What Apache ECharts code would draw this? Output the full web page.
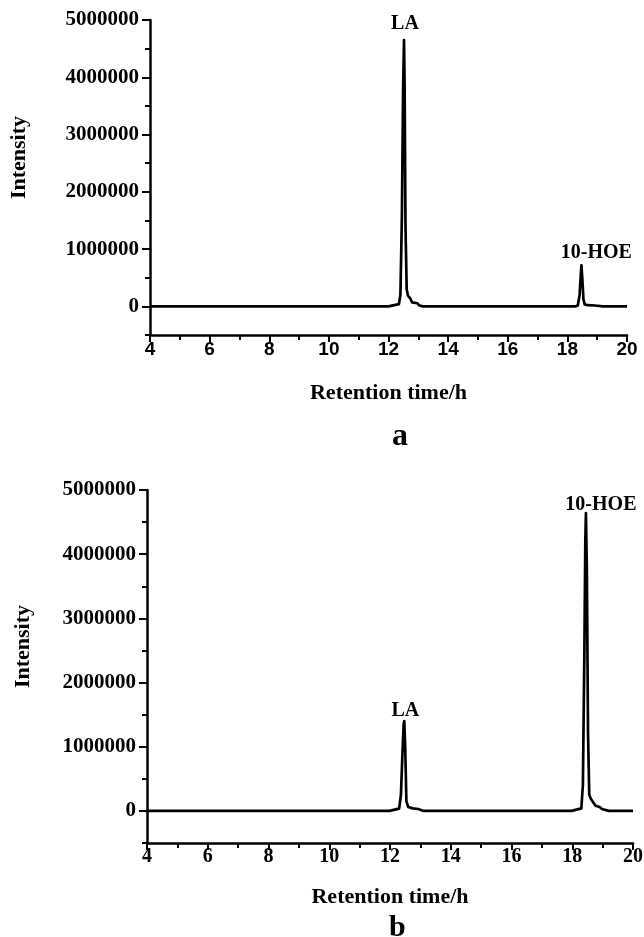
<!DOCTYPE html>
<html><head><meta charset="utf-8">
<script src="https://cdn.jsdelivr.net/npm/echarts@6.0.0/dist/echarts.min.js"></script>
<style>html,body{margin:0;padding:0;background:#fff}#c{width:644px;height:937px}</style>
</head><body><div id="c"></div>
<script>
// Panel a
const timeA = [4, 8, 12.0, 12.03, 12.35, 12.40, 12.45, 12.49, 12.52, 12.54, 12.57, 12.61, 12.65, 12.70, 12.74, 12.79, 12.85, 12.97, 13.02, 13.07, 13.15, 15.5, 18.28, 18.35, 18.41, 18.45, 18.47, 18.50, 18.54, 18.58, 18.68, 18.92, 18.97, 19.2, 20];
const intensityA = [0, 0, 0, 30000, 40000, 200000, 1600000, 3800000, 4650000, 3900000, 1400000, 300000, 190000, 170000, 130000, 70000, 60000, 55000, 20000, 0, 0, 0, 0, 15000, 200000, 550000, 715000, 500000, 120000, 35000, 20000, 15000, 0, 0, 0];
// Panel b
const timeB = [4, 8, 11.98, 12.0, 12.3, 12.36, 12.41, 12.45, 12.47, 12.50, 12.54, 12.6, 12.75, 12.93, 12.97, 13.1, 15.5, 17.98, 18.0, 18.3, 18.35, 18.40, 18.43, 18.45, 18.48, 18.52, 18.56, 18.61, 18.65, 18.71, 18.77, 18.90, 18.98, 19.02, 19.2, 20];
const intensityB = [0, 0, 0, 30000, 35000, 250000, 900000, 1350000, 1400000, 1000000, 150000, 60000, 40000, 30000, 0, 0, 0, 0, 30000, 40000, 400000, 2500000, 4200000, 4640000, 3800000, 1200000, 250000, 190000, 170000, 120000, 80000, 60000, 30000, 0, 0, 0];
// Peak annotations
const annoTextA = ['LA', '10-HOE'];
const annoTimeA = [12.52, 18.47];
const annoIntA = [4650000, 715000];
const annoTextB = ['LA', '10-HOE'];
const annoTimeB = [12.47, 18.45];
const annoIntB = [1400000, 4640000];
// Axis ticks
const yTickValues = [0, 1000000, 2000000, 3000000, 4000000, 5000000];
const yMinorTickValues = [-500000, 500000, 1500000, 2500000, 3500000, 4500000];
const xTitle = 'Retention time/h';
const yTitle = 'Intensity';
const panelLabels = ['a', 'b'];

const SERIF = '"Liberation Serif", "Times New Roman", serif';
const SANS = '"Liberation Sans", Arial, sans-serif';
const BLACK = '#000';

function xAxisCfg(gridIndex, labelFont, labelSize, labelMargin, nameGap) {
  return {
    type: 'value', gridIndex, min: 4, max: 20, interval: 2,
    axisLine: { show: true, onZero: false, lineStyle: { color: BLACK, width: 2.5 } },
    axisTick: { show: true, inside: false, length: 7, lineStyle: { color: BLACK, width: 2 } },
    minorTick: { show: true, splitNumber: 2, length: 5, lineStyle: { color: BLACK, width: 2 } },
    axisLabel: { show: true, margin: labelMargin, color: BLACK, fontFamily: labelFont, fontWeight: 'bold', fontSize: labelSize },
    splitLine: { show: false }, minorSplitLine: { show: false },
    name: xTitle, nameLocation: 'middle', nameGap,
    nameTextStyle: { color: BLACK, fontFamily: SERIF, fontWeight: 'bold', fontSize: 22 }
  };
}
function yAxisMain(gridIndex, nameGap) {
  return {
    type: 'value', gridIndex, position: 'left', min: -500000, max: 5000000, interval: 500000,
    axisLine: { show: true, onZero: false, lineStyle: { color: BLACK, width: 2.5 } },
    axisTick: { show: true, inside: false, length: 8, customValues: yTickValues, lineStyle: { color: BLACK, width: 2 } },
    axisLabel: { show: true, margin: 11, customValues: yTickValues, formatter: v => String(v), color: BLACK, fontFamily: SERIF, fontWeight: 'bold', fontSize: 21 },
    splitLine: { show: false },
    name: yTitle, nameLocation: 'middle', nameGap, nameRotate: 90,
    nameTextStyle: { color: BLACK, fontFamily: SERIF, fontWeight: 'bold', fontSize: 22, padding: [0, 0, 0, 40] }
  };
}
function yAxisMinor(gridIndex) {
  return {
    type: 'value', gridIndex, position: 'left', min: -500000, max: 5000000, interval: 500000,
    axisLine: { show: false },
    axisTick: { show: true, inside: false, length: 5, customValues: yMinorTickValues, lineStyle: { color: BLACK, width: 2 } },
    axisLabel: { show: false },
    splitLine: { show: false }
  };
}
function lineSeries(xi, yi, times, vals) {
  return {
    type: 'line', xAxisIndex: xi, yAxisIndex: yi, showSymbol: false, symbol: 'none',
    sampling: null, smooth: false,
    lineStyle: { color: BLACK, width: 2.7, join: 'round' }, silent: true, animation: false,
    data: times.map((t, i) => [t, vals[i]])
  };
}
function annoSeries(xi, yi, texts, times, vals, dist) {
  const baseLabel = { show: true, position: 'top', formatter: '{b}', color: BLACK, opacity: 1,
    fontFamily: SERIF, fontWeight: 'bold', fontSize: 20, textBorderWidth: 0 };
  return {
    type: 'scatter', xAxisIndex: xi, yAxisIndex: yi, symbolSize: 1, silent: true, animation: false,
    itemStyle: { color: 'rgba(0,0,0,0)' },
    label: baseLabel,
    emphasis: { disabled: true },
    data: texts.map((s, i) => ({
      name: s, value: [times[i], vals[i]],
      label: Object.assign({}, baseLabel, {
        distance: dist[i],
        offset: s === '10-HOE' ? [15, 0] : [1, 0]
      })
    }))
  };
}

const chart = echarts.init(document.getElementById('c'), null, { renderer: 'canvas' });
chart.setOption({
  animation: false,
  backgroundColor: '#fff',
  grid: [
    { left: 150, top: 20, width: 477, height: 315, outerBoundsMode: 'none', containLabel: false },
    { left: 147, top: 490, width: 486, height: 353, outerBoundsMode: 'none', containLabel: false }
  ],
  xAxis: [
    xAxisCfg(0, SANS, 19, 5, 47),
    xAxisCfg(1, SERIF, 20, 4, 43)
  ],
  yAxis: [
    yAxisMain(0, 120), yAxisMinor(0),
    yAxisMain(1, 113), yAxisMinor(1)
  ],
  series: [
    lineSeries(0, 0, timeA, intensityA),
    annoSeries(0, 0, annoTextA, annoTimeA, annoIntA, [6, 2]),
    lineSeries(1, 2, timeB, intensityB),
    annoSeries(1, 2, annoTextB, annoTimeB, annoIntB, [0, -2])
  ],
  graphic: [
    { type: 'text', left: 392, top: 421, style: { text: panelLabels[0], fill: BLACK, font: 'bold 32px ' + SERIF } },
    { type: 'text', left: 389, top: 913, style: { text: panelLabels[1], fill: BLACK, font: 'bold 30px ' + SERIF } }
  ]
});
</script>
</body></html>
